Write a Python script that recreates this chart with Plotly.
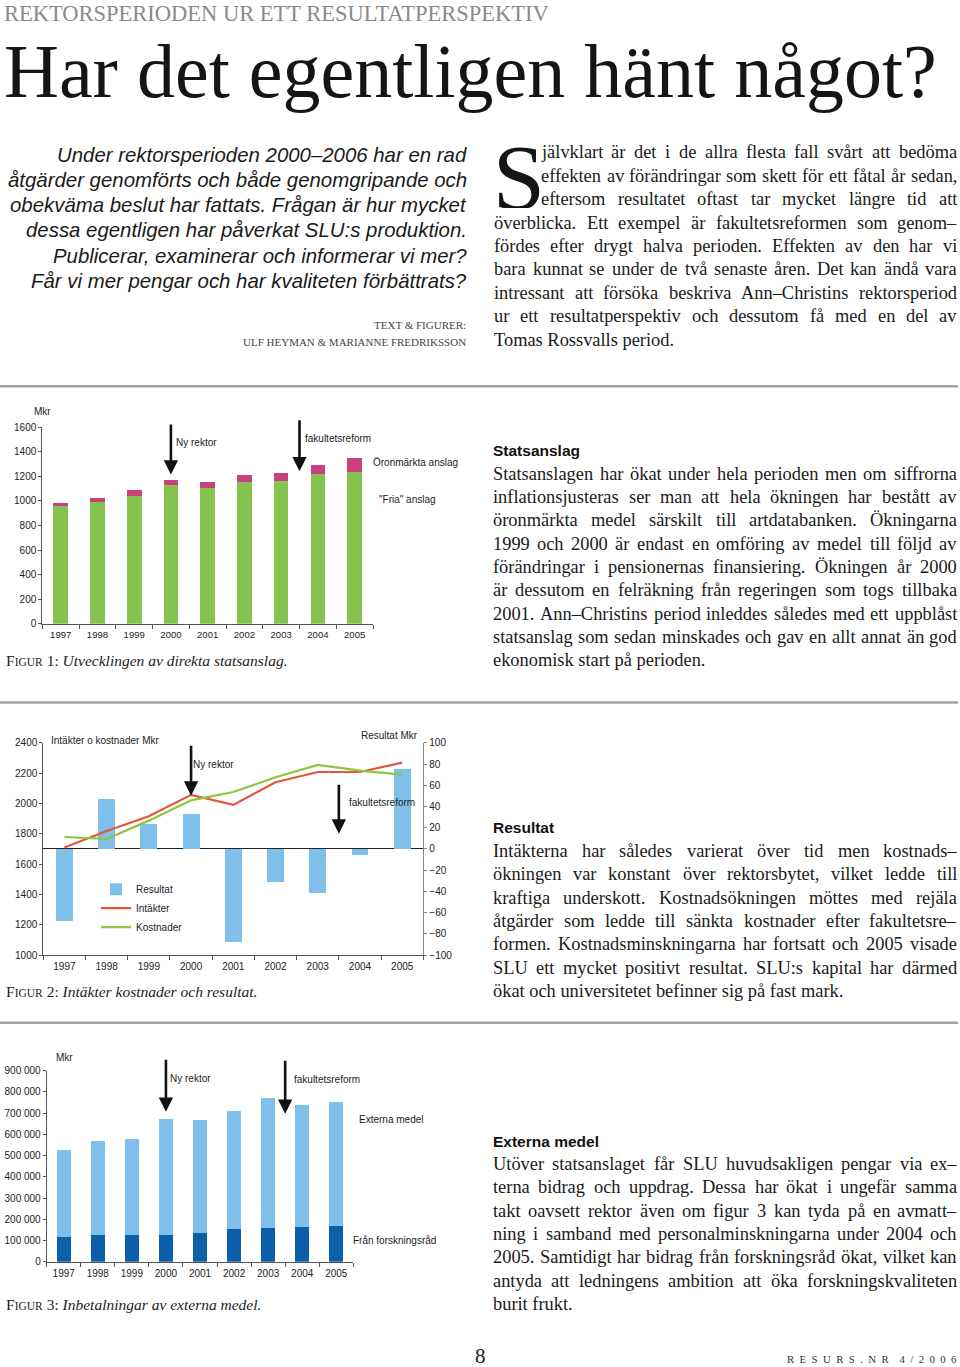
import plotly.graph_objects as go

W, H = 960, 1367

# ---------------- data ----------------
YEARS = ["1997", "1998", "1999", "2000", "2001", "2002", "2003", "2004", "2005"]

# Figur 1: direkta statsanslag (Mkr)
FRIA = [960, 992, 1044, 1131, 1109, 1158, 1163, 1218, 1234]
ORONMARKTA = [20, 30, 41, 38, 49, 54, 68, 73, 117]

# Figur 2: intäkter, kostnader (Mkr) och resultat (Mkr)
RESULTAT = [-68, 47, 24, 33, -88, -31, -42, -6, 75]
INTAKTER = [1709, 1819, 1916, 2057, 1991, 2140, 2208, 2208, 2270]
KOSTNADER = [1779, 1766, 1887, 2021, 2076, 2173, 2255, 2217, 2191]

# Figur 3: inbetalningar av externa medel
FORSKNINGSRAD = [115000, 126000, 126000, 126000, 135000, 157000, 160000, 163000, 168000]
EXTERNA = [411000, 444000, 454000, 548000, 532000, 554000, 614000, 578000, 584000]

Y1_TICKS = [0, 1600, 200]
Y2L_RANGE = [1000, 2400, 200]
Y2R_RANGE = [-100, 100, 20]
Y3_TICKS = [0, 900000, 100000]

# ---------------- styling ----------------
SERIF = "Liberation Serif"
SANS = "Liberation Sans"
INK = "#1c1c1c"
GREEN1 = "#86c24e"
MAGENTA = "#c8407f"
LIGHTBLUE = "#7fc0ea"
RED = "#e4553a"
GREEN2 = "#8cc63f"
DARKBLUE = "#0b5ea8"
AX = "#555555"

# approximate advance widths (1/1000 em) of Liberation Serif, used to justify body text
TW = dict(zip("abcdefghijklmnopqrstuvwxyz",
              [444, 500, 444, 500, 444, 333, 500, 500, 278, 278, 500, 278, 778, 500, 500, 500, 500, 333, 389,
               278, 500, 500, 722, 500, 500, 444]))
TW.update(zip("ABCDEFGHIJKLMNOPQRSTUVWXYZ",
              [722, 667, 667, 722, 611, 556, 722, 722, 333, 389, 722, 611, 889, 722, 722, 556, 722, 667, 556,
               611, 722, 722, 944, 722, 722, 611]))
TW.update({c: 500 for c in "0123456789"})
TW.update({"å": 444, "ä": 444, "ö": 500, "Ö": 722, "Ä": 722, "Å": 722, "é": 444, ",": 250, ".": 250,
           ":": 278, "–": 500, "-": 333, " ": 250})

# vertical placement: the captured picture shows page y at about 0.9908*y + 5.7,
# so target positions (picture pixels) are mapped back before use.
VS, VO = 0.9908, 5.7


def X(x):
    return x / W


def Y(y):
    return 1 - ((y - VO) / VS) / H


fig = go.Figure()

# Figure 1
fig.add_trace(go.Bar(x=YEARS, y=FRIA, name='"Fria" anslag', marker=dict(color=GREEN1, line=dict(width=0)),
                     xaxis="x", yaxis="y", showlegend=False))
fig.add_trace(go.Bar(x=YEARS, y=ORONMARKTA, name="Öronmärkta anslag", marker=dict(color=MAGENTA, line=dict(width=0)),
                     xaxis="x", yaxis="y", showlegend=False))
# Figure 2
fig.add_trace(go.Bar(x=YEARS, y=RESULTAT, name="Resultat", marker=dict(color=LIGHTBLUE, line=dict(width=0)),
                     xaxis="x2", yaxis="y2", showlegend=True))
fig.add_trace(go.Scatter(x=YEARS, y=INTAKTER, name="Intäkter", mode="lines", line=dict(color=RED, width=2.2),
                         xaxis="x2", yaxis="y4", showlegend=True))
fig.add_trace(go.Scatter(x=YEARS, y=KOSTNADER, name="Kostnader", mode="lines", line=dict(color=GREEN2, width=2.2),
                         xaxis="x2", yaxis="y4", showlegend=True))
# Figure 3
fig.add_trace(go.Bar(x=YEARS, y=FORSKNINGSRAD, name="Från forskningsråd", marker=dict(color=DARKBLUE, line=dict(width=0)),
                     xaxis="x3", yaxis="y3", showlegend=False))
fig.add_trace(go.Bar(x=YEARS, y=EXTERNA, name="Externa medel", marker=dict(color=LIGHTBLUE, line=dict(width=0)),
                     xaxis="x3", yaxis="y3", showlegend=False))

tickfont = dict(family=SANS, size=10, color=INK)


def xaxis(x0, x1, anchor, fsize=10):
    return dict(domain=[X(x0), X(x1)], anchor=anchor, type="category", showline=True, linecolor=AX,
                linewidth=1, ticks="outside", tickson="boundaries", ticklen=4, tickcolor=AX,
                tickfont=dict(family=SANS, size=fsize, color=INK), showgrid=False, zeroline=False,
                ticklabelstandoff=2, fixedrange=True)


def yaxis(y_top, y_bot, anchor, rng, side="left", linecolor=AX):
    return dict(domain=[Y(y_bot), Y(y_top)], anchor=anchor, range=[rng[0], rng[1]], dtick=rng[2],
                tick0=rng[0], side=side, showline=True, linecolor=linecolor, linewidth=1, ticks="outside",
                ticklen=3, tickcolor=linecolor, tickfont=tickfont, showgrid=False, zeroline=False,
                fixedrange=True, exponentformat="none")


layout = dict(
    width=W, height=H, autosize=False,
    margin=dict(l=0, r=0, t=0, b=0),
    paper_bgcolor="white", plot_bgcolor="white",
    barmode="stack", bargap=0.6,
    separators=", ",
    xaxis=xaxis(42.3, 373, "y", 9.5),
    yaxis=yaxis(426.7, 623.3, "x", Y1_TICKS),
    xaxis2=xaxis(43.3, 423.3, "y2"),
    yaxis2=yaxis(742.3, 954.3, "x2", Y2R_RANGE, side="right", linecolor="#888888"),
    yaxis4=dict(overlaying="y2", anchor="x2", side="left", range=[Y2L_RANGE[0], Y2L_RANGE[1]],
                dtick=Y2L_RANGE[2], tick0=Y2L_RANGE[0], showline=True, linecolor=AX, linewidth=1,
                ticks="outside", ticklen=3, tickcolor=AX, tickfont=tickfont, showgrid=False,
                zeroline=False, fixedrange=True),
    xaxis3=xaxis(46.7, 353.3, "y3"),
    yaxis3=yaxis(1070, 1261, "x3", Y3_TICKS),
    legend=dict(x=X(96), y=Y(874), xanchor="left", yanchor="top", traceorder="normal",
                font=dict(family=SANS, size=10, color=INK), bgcolor="rgba(0,0,0,0)",
                tracegroupgap=0, itemwidth=30),
    showlegend=True,
    hovermode=False,
)
layout["yaxis2"].update(zeroline=True, zerolinecolor="#222222", zerolinewidth=1.2)
fig.update_layout(**layout)

anns = []


def txt(x, y, s, size, family=SANS, color=INK, xanchor="left", dy=None, **kw):
    # y is the visual centre of the line; shift a little for the annotation box
    if dy is None:
        dy = -0.05 * size
    anns.append(dict(xref="paper", yref="paper", x=X(x), y=Y(y + dy), text=s, showarrow=False,
                     xanchor=xanchor, yanchor="middle", borderpad=0, borderwidth=0,
                     font=dict(family=family, size=size, color=color), **kw))


def arrow(xref, yref, xval, yval, ay):
    anns.append(dict(xref=xref, yref=yref, x=xval, y=yval, ax=0, ay=ay / VS, axref="pixel", ayref="pixel",
                     text="", showarrow=True, arrowhead=2, arrowsize=1.1, arrowwidth=2.6,
                     arrowcolor="#111111", standoff=0))


BODY = 18.4


def text_width(s, size):
    return sum(TW.get(c, 500) for c in s) * size / 1000


def line(x0, x1, y, s, justify=True, size=BODY):
    if not justify:
        txt(x0, y, s, size, SERIF, "#1a1a1a")
        return
    words = s.split(" ")
    widths = [text_width(w, size) for w in words]
    gap = (x1 - x0 - sum(widths)) / (len(words) - 1)
    x = x0
    for i, w in enumerate(words):
        if i == len(words) - 1:
            txt(x1, y, w, size, SERIF, "#1a1a1a", xanchor="right")
        else:
            txt(x, y, w, size, SERIF, "#1a1a1a")
        x += widths[i] + gap


# ---------------- page header ----------------
txt(4, 13, "REKTORSPERIODEN UR ETT RESULTATPERSPEKTIV", 22.5, SERIF, "#8a8a8a", dy=0)
txt(4, 72, "Har det egentligen hänt något?", 76, SERIF, "#151515", dy=-1)

intro = [
    "Under rektorsperioden 2000–2006 har en rad",
    "åtgärder genomförts och både genomgripande och",
    "obekväma beslut har fattats. Frågan är hur mycket",
    "dessa egentligen har påverkat SLU:s produktion.",
    "Publicerar, examinerar och informerar vi mer?",
    "Får vi mer pengar och har kvaliteten förbättrats?",
]
for i, s in enumerate(intro):
    txt(467, 155.5 + i * 25.2, "<i>" + s + "</i>", 20.4, SANS, "#1a1a1a", xanchor="right")

txt(466, 325, "TEXT &amp; FIGURER:", 11, SERIF, "#444444", xanchor="right")
txt(466, 342, "ULF HEYMAN &amp; MARIANNE FREDRIKSSON", 11, SERIF, "#444444", xanchor="right")

# drop cap paragraph
txt(494, 176, "S", 94, SERIF, "#151515", dy=0, height=63, width=50, valign="middle")
para1 = [
    (541, "jälvklart är det i de allra flesta fall svårt att bedöma", True),
    (541, "effekten av förändringar som skett för ett fåtal år sedan,", True),
    (541, "eftersom resultatet oftast tar mycket längre tid att", True),
    (494, "överblicka. Ett exempel är fakultetsreformen som genom–", True),
    (494, "fördes efter drygt halva perioden. Effekten av den har vi", True),
    (494, "bara kunnat se under de två senaste åren. Det kan ändå vara", True),
    (494, "intressant att försöka beskriva Ann–Christins rektorsperiod", True),
    (494, "ur ett resultatperspektiv och dessutom få med en del av", True),
    (494, "Tomas Rossvalls period.", False),
]
for i, (x0, s, j) in enumerate(para1):
    line(x0, 957, 153 + i * 23.4, s, j)

# separators
shapes = []
for yy in (385.7, 702, 1022):
    shapes.append(dict(type="line", xref="paper", yref="paper", x0=0, x1=X(958), y0=Y(yy), y1=Y(yy),
                       line=dict(color="#a3a3a3", width=2.5)))


def section(y_head, head, lines):
    txt(493, y_head, "<b>" + head + "</b>", 15.5, SANS, "#111111")
    for i, s in enumerate(lines):
        line(493, 957, y_head + 23.3 * (i + 1), s, i < len(lines) - 1)


section(451, "Statsanslag", [
    "Statsanslagen har ökat under hela perioden men om siffrorna",
    "inflationsjusteras ser man att hela ökningen har bestått av",
    "öronmärkta medel särskilt till artdatabanken. Ökningarna",
    "1999 och 2000 är endast en omföring av medel till följd av",
    "förändringar i pensionernas finansiering. Ökningen år 2000",
    "är dessutom en felräkning från regeringen som togs tillbaka",
    "2001. Ann–Christins period inleddes således med ett uppblåst",
    "statsanslag som sedan minskades och gav en allt annat än god",
    "ekonomisk start på perioden.",
])
section(828, "Resultat", [
    "Intäkterna har således varierat över tid men kostnads–",
    "ökningen var konstant över rektorsbytet, vilket ledde till",
    "kraftiga underskott. Kostnadsökningen möttes med rejäla",
    "åtgärder som ledde till sänkta kostnader efter fakultetsre–",
    "formen. Kostnadsminskningarna har fortsatt och 2005 visade",
    "SLU ett mycket positivt resultat. SLU:s kapital har därmed",
    "ökat och universitetet befinner sig på fast mark.",
])
section(1141, "Externa medel", [
    "Utöver statsanslaget får SLU huvudsakligen pengar via ex–",
    "terna bidrag och uppdrag. Dessa har ökat i ungefär samma",
    "takt oavsett rektor även om figur 3 kan tyda på en avmatt–",
    "ning i samband med personalminskningarna under 2004 och",
    "2005. Samtidigt har bidrag från forskningsråd ökat, vilket kan",
    "antyda att ledningens ambition att öka forskningskvaliteten",
    "burit frukt.",
])

# ---------------- figure 1 labels ----------------
txt(34, 411.7, "Mkr", 10)
txt(176, 443, "Ny rektor", 10)
txt(305, 439, "fakultetsreform", 10)
txt(373, 463, "Öronmärkta anslag", 10)
txt(379, 499, '"Fria" anslag', 10)
arrow("x", "y", YEARS.index("2000"), 1215, -51)
arrow("x", "y", YEARS.index("2003") + 0.5, 1242, -52)
txt(6, 661, "F<span style='font-size:11.5px'>IGUR</span> 1: <i>Utvecklingen av direkta statsanslag.</i>", 15.5, SERIF)

# ---------------- figure 2 labels ----------------
txt(51, 740, "Intäkter o kostnader Mkr", 10)
txt(361, 735.7, "Resultat Mkr", 10)
txt(193, 764, "Ny rektor", 10)
txt(349, 802.7, "fakultetsreform", 10)
arrow("x2", "y4", YEARS.index("2000"), 2052, -51)
arrow("x2", "y4", YEARS.index("2003") + 0.5, 1801, -50)
txt(6, 992, "F<span style='font-size:11.5px'>IGUR</span> 2: <i>Intäkter kostnader och resultat.</i>", 15.5, SERIF)

# ---------------- figure 3 labels ----------------
txt(56, 1057.7, "Mkr", 10)
txt(170, 1078, "Ny rektor", 10)
txt(294, 1079, "fakultetsreform", 10)
txt(359, 1119, "Externa medel", 10)
txt(353, 1240, "Från forskningsråd", 10)
arrow("x3", "y3", YEARS.index("2000"), 706800, -53)
arrow("x3", "y3", YEARS.index("2003") + 0.5, 697400, -54)
txt(6, 1304, "F<span style='font-size:11.5px'>IGUR</span> 3: <i>Inbetalningar av externa medel.</i>", 15.5, SERIF)

# ---------------- footer ----------------
txt(480, 1355, "8", 21, SERIF, "#222222", xanchor="center", dy=0)
txt(957, 1358, "R\u2002E\u2002S\u2002U\u2002R\u2002S\u2002.\u2002N\u2002R\u2002\u20024\u2002/\u20022\u20020\u20020\u20026",
    10.8, SERIF, "#333333", xanchor="right", dy=0)

fig.update_layout(annotations=anns, shapes=shapes)

fig.write_html(
    "out.html", config={"displayModeBar": False},
    post_script=("document.documentElement.style.margin='0px';document.body.style.margin='0px';"
                 "document.documentElement.style.overflow='hidden';document.body.style.overflow='hidden';"))
